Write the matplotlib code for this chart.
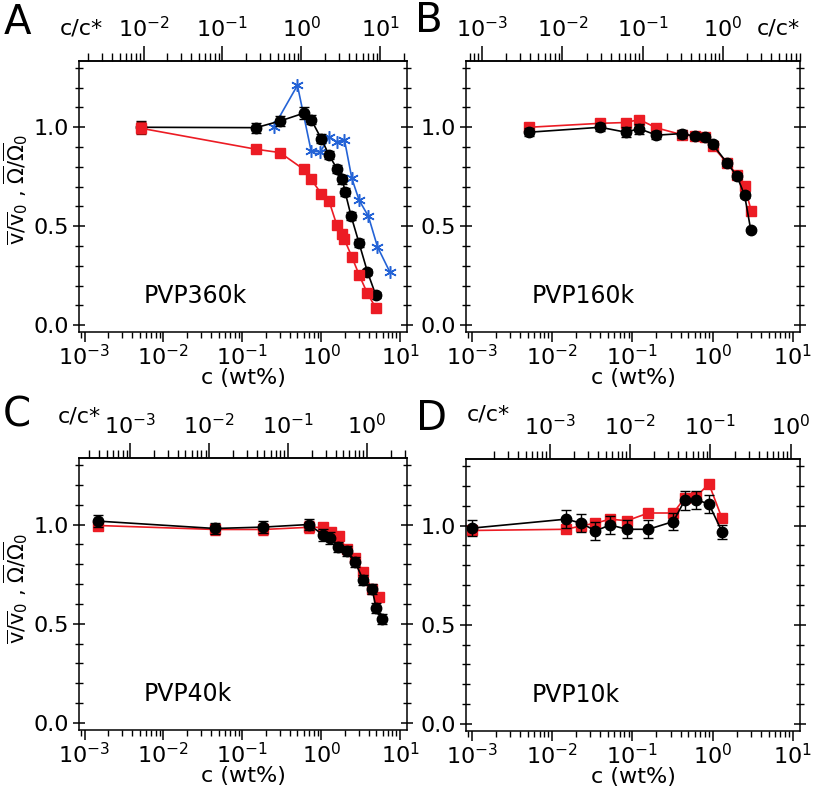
import numpy as np
import matplotlib
matplotlib.use('Agg')
import matplotlib.pyplot as plt
from matplotlib import ticker

plt.rcParams['font.family'] = ['DejaVu Sans']
plt.rcParams['mathtext.fontset'] = 'dejavusans'

RED = '#ec1c24'
BLUE = '#2463d6'
W, H = 813, 787

# ---- PVP360k (A) ----
a_blk_c = [0.0052, 0.150, 0.303, 0.61, 0.746, 1.0, 1.26, 1.58, 1.86, 2.01, 2.40, 3.03, 3.86, 4.92]
a_blk_y = [1.0, 0.998, 1.032, 1.072, 1.039, 0.943, 0.859, 0.791, 0.736, 0.673, 0.55, 0.413, 0.269, 0.152]
a_blk_e = [0.03, 0.025, 0.025, 0.03, 0.025, 0.025, 0.02, 0.02, 0.025, 0.02, 0.02, 0.02, 0.015, 0.015]
a_red_c = [0.0052, 0.149, 0.30, 0.597, 0.746, 1.0, 1.26, 1.58, 1.86, 1.97, 2.45, 3.03, 3.86, 4.92]
a_red_y = [0.995, 0.889, 0.872, 0.788, 0.737, 0.665, 0.626, 0.505, 0.458, 0.433, 0.345, 0.253, 0.16, 0.087]
a_red_e = [0.03, 0.01, 0.01, 0.01, 0.01, 0.01, 0.01, 0.01, 0.01, 0.01, 0.01, 0.01, 0.01, 0.01]
a_blu_c = [0.249, 0.50, 0.746, 0.97, 1.27, 1.58, 1.97, 2.45, 3.03, 3.97, 5.17, 7.47]
a_blu_y = [1.0, 1.212, 0.88, 0.875, 0.951, 0.926, 0.938, 0.741, 0.631, 0.55, 0.396, 0.266]

# ---- PVP160k (B) ----
b_blk_c = [0.0052, 0.040, 0.083, 0.122, 0.20, 0.41, 0.60, 0.795, 1.0, 1.51, 2.01, 2.5, 2.98]
b_blk_y = [0.975, 1.0, 0.975, 0.993, 0.96, 0.968, 0.955, 0.951, 0.914, 0.82, 0.753, 0.657, 0.483]
b_blk_e = [0.02, 0.02, 0.025, 0.025, 0.02, 0.02, 0.015, 0.015, 0.015, 0.015, 0.015, 0.015, 0.01]
b_red_c = [0.0052, 0.040, 0.083, 0.122, 0.20, 0.41, 0.60, 0.795, 1.0, 1.51, 2.01, 2.5, 3.03]
b_red_y = [1.0, 1.02, 1.024, 1.039, 0.997, 0.963, 0.955, 0.951, 0.904, 0.82, 0.76, 0.702, 0.577]

# ---- PVP40k (C) ----
c_blk_c = [0.0015, 0.045, 0.185, 0.697, 1.05, 1.31, 1.62, 2.11, 2.69, 3.43, 4.42, 4.97, 5.92]
c_blk_y = [1.017, 0.98, 0.987, 1.0, 0.949, 0.933, 0.887, 0.865, 0.81, 0.719, 0.675, 0.579, 0.524]
c_blk_e = [0.03, 0.03, 0.03, 0.03, 0.03, 0.03, 0.025, 0.025, 0.025, 0.025, 0.025, 0.025, 0.025]
c_red_c = [0.0015, 0.045, 0.185, 0.697, 1.05, 1.34, 1.67, 2.11, 2.69, 3.43, 4.42, 5.47]
c_red_y = [0.995, 0.975, 0.975, 0.986, 0.985, 0.963, 0.941, 0.875, 0.832, 0.76, 0.675, 0.635]
c_red_e = [0.025, 0.03, 0.03, 0.03, 0.02, 0.02, 0.02, 0.02, 0.02, 0.02, 0.02, 0.02]

# ---- PVP10k (D) ----
d_blk_c = [0.00102, 0.0150, 0.0231, 0.0348, 0.0531, 0.0855, 0.159, 0.324, 0.448, 0.627, 0.90, 1.31]
d_blk_y = [0.987, 1.032, 1.012, 0.973, 1.003, 0.981, 0.981, 1.02, 1.126, 1.13, 1.108, 0.969]
d_blk_e = [0.04, 0.045, 0.045, 0.045, 0.045, 0.045, 0.045, 0.045, 0.05, 0.045, 0.045, 0.035]
d_red_c = [0.00102, 0.0150, 0.0231, 0.0348, 0.0531, 0.0855, 0.159, 0.324, 0.448, 0.627, 0.90, 1.31]
d_red_y = [0.975, 0.981, 0.998, 1.012, 1.032, 1.024, 1.063, 1.063, 1.138, 1.146, 1.21, 1.036]

names = ['PVP360k', 'PVP160k', 'PVP40k', 'PVP10k']
letters = ['A', 'B', 'C', 'D']
cstars = [0.56, 1.35, 3.8, 9.4]
top_ticks = [[1e-2, 1e-1, 1, 10], [1e-3, 1e-2, 1e-1, 1],
             [1e-3, 1e-2, 1e-1, 1], [1e-3, 1e-2, 1e-1, 1]]
bottom_ticks = [1e-3, 1e-2, 1e-1, 1, 10]

# axes boxes in pixels: left, top, right, bottom
boxes = [(79, 61, 407, 332), (466, 61, 800, 332),
         (79, 458, 407, 730), (466, 459, 800, 731)]


def powfmt(v, pos):
    return r'$10^{%d}$' % int(round(np.log10(v)))


fig = plt.figure(figsize=(W / 100, H / 100), dpi=100)
axes = []
for i, (l, t, r, b) in enumerate(boxes):
    ax = fig.add_axes([l / W, 1 - b / H, (r - l) / W, (b - t) / H])
    ax.set_xscale('log')
    ax.set_xlim(10 ** -3.07, 10 ** 1.088)
    ax.set_ylim(-0.035, 1.335)
    ax.xaxis.set_major_locator(ticker.FixedLocator(bottom_ticks))
    ax.xaxis.set_minor_locator(ticker.LogLocator(base=10, subs=np.arange(2, 10), numticks=30))
    ax.xaxis.set_minor_formatter(ticker.NullFormatter())
    ax.xaxis.set_major_formatter(ticker.FuncFormatter(powfmt))
    ax.yaxis.set_major_locator(ticker.MultipleLocator(0.5))
    ax.yaxis.set_minor_locator(ticker.MultipleLocator(0.1))
    ax.yaxis.set_major_formatter(ticker.FormatStrFormatter('%.1f'))
    ax.tick_params(axis='x', which='major', direction='out', length=7, width=1.1,
                   labelsize=16, pad=2)
    ax.tick_params(axis='x', which='minor', direction='out', length=4, width=1)
    ax.tick_params(axis='y', which='both', direction='inout', left=True, right=True,
                   labelsize=16, pad=3)
    ax.tick_params(axis='y', which='major', length=9, width=1.1)
    ax.tick_params(axis='y', which='minor', length=6, width=1)
    for s in ax.spines.values():
        s.set_linewidth(1.1)
    ax.set_xlabel('c (wt%)', fontsize=16, labelpad=-1)

    cs = cstars[i]
    sec = ax.secondary_xaxis('top', functions=(lambda c, cs=cs: c / cs, lambda r, cs=cs: r * cs))
    sec.xaxis.set_major_locator(ticker.FixedLocator(top_ticks[i]))
    sec.xaxis.set_minor_locator(ticker.LogLocator(base=10, subs=np.arange(2, 10), numticks=30))
    sec.xaxis.set_minor_formatter(ticker.NullFormatter())
    sec.xaxis.set_major_formatter(ticker.FuncFormatter(powfmt))
    sec.tick_params(axis='x', which='major', direction='out', length=11, width=1.1,
                    labelsize=16, pad=3)
    sec.tick_params(axis='x', which='minor', direction='out', length=6, width=1)
    sec.spines['top'].set_linewidth(1.1)

    ax.text(0.197, 0.133, names[i], fontsize=17,
            transform=ax.transAxes, ha='left', va='center')
    axes.append(ax)

axA, axB, axC, axD = axes

ms_c = 7.5
ms_s = 7.2
lw = 1.2
eb = dict(capsize=3.5, elinewidth=1, capthick=1)

# A
axA.errorbar(a_blk_c, a_blk_y, yerr=a_blk_e, color='black', marker='o', ms=ms_c,
             lw=lw, zorder=3, **eb)
axA.errorbar(a_red_c, a_red_y, yerr=a_red_e, color=RED, ecolor='#8a1010', marker='s', ms=ms_s,
             lw=lw, zorder=4, **eb)
axA.plot(a_blu_c, a_blu_y, color=BLUE, marker=(6, 2, 0), ms=9, mew=1.1, lw=lw, zorder=2)

# B
axB.plot(b_red_c, b_red_y, color=RED, marker='s', ms=ms_s, lw=lw, zorder=2)
axB.errorbar(b_blk_c, b_blk_y, yerr=b_blk_e, color='black', marker='o', ms=ms_c,
             lw=lw, zorder=3, **eb)

# C
axC.errorbar(c_red_c, c_red_y, yerr=c_red_e, color=RED, marker='s', ms=ms_s,
             lw=lw, zorder=2, **eb)
axC.errorbar(c_blk_c, c_blk_y, yerr=c_blk_e, color='black', marker='o', ms=ms_c,
             lw=lw, zorder=3, **eb)

# D
axD.plot(d_red_c, d_red_y, color=RED, marker='s', ms=ms_s, lw=lw, zorder=2)
axD.errorbar(d_blk_c, d_blk_y, yerr=d_blk_e, color='black', marker='o', ms=ms_c,
             lw=lw, zorder=3, **eb)

# figure-level texts
ylab = r'$\overline{\mathrm{v}}/\overline{\mathrm{v}}_0$ , $\overline{\Omega}/\overline{\Omega}_0$'
for ycen in (189, 588):
    fig.text(16 / W, 1 - ycen / H, ylab, rotation=90, fontsize=15, ha='center', va='center')

letter_pos = [(17, 23), (429, 21), (17, 415), (431, 419)]
for let, (x, y) in zip(letters, letter_pos):
    fig.text(x / W, 1 - y / H, let, fontsize=29, ha='center', va='center')

cc_pos = [(81, 28), (778, 28), (79, 416), (488, 414)]
for x, y in cc_pos:
    fig.text(x / W, 1 - y / H, 'c/c*', fontsize=16, ha='center', va='center')

fig.savefig('out.png', dpi=100)
